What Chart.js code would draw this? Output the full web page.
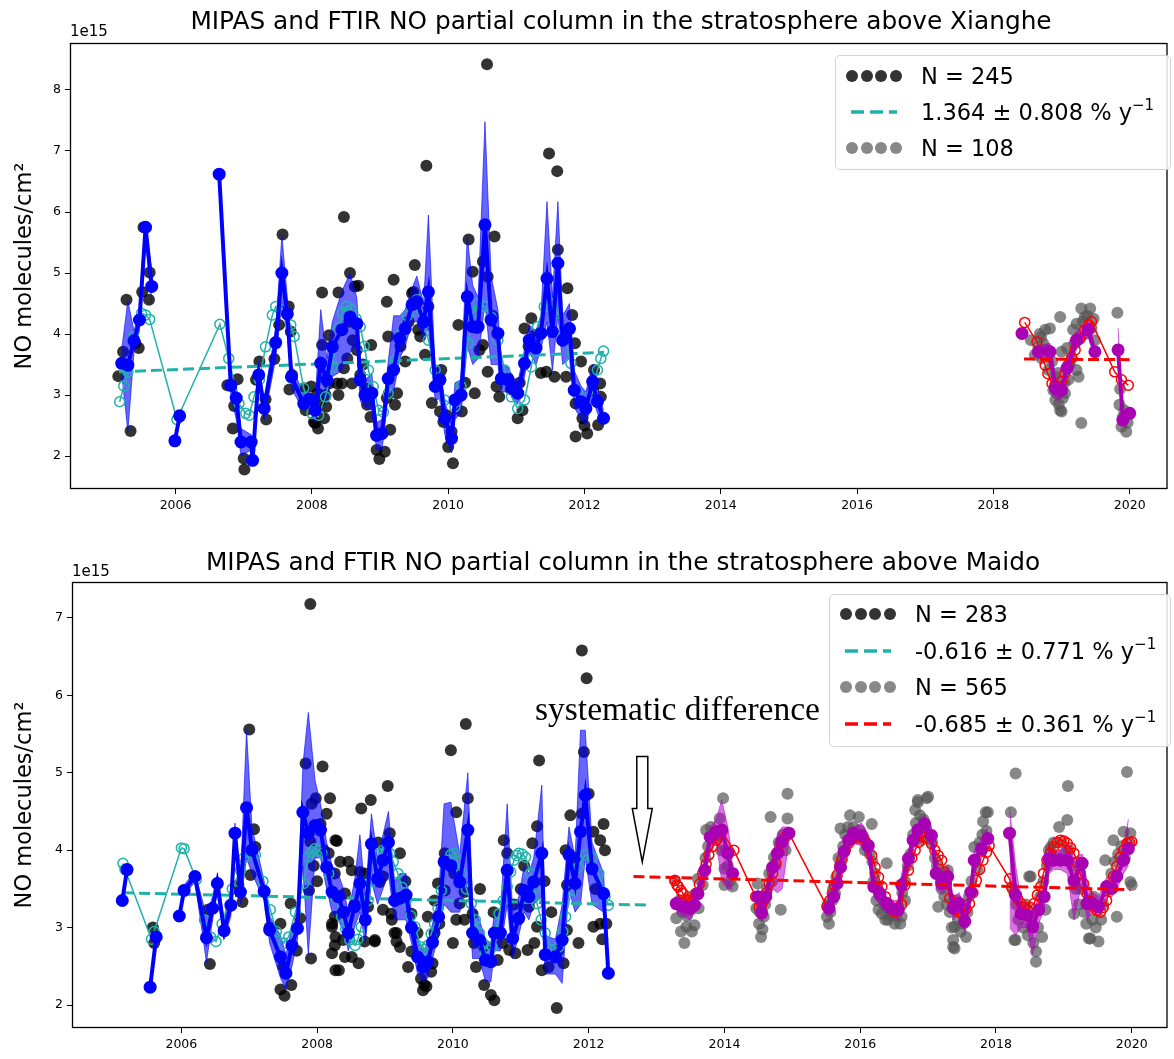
<!DOCTYPE html>
<html>
<head>
<meta charset="utf-8">
<script src="https://cdn.jsdelivr.net/npm/chart.js@4.4.0/dist/chart.umd.min.js"></script>
<style>
  body { margin:0; background:#fff; font-family:'DejaVu Sans', sans-serif; }
  #wrap { position:relative; width:1174px; height:1059px; overflow:hidden; }
  canvas { position:absolute; left:0; }
  .title { position:absolute; text-align:center; font-size:24.8px; line-height:1; color:#000; white-space:nowrap; }
  .off { position:absolute; font-size:15px; line-height:1; color:#000; }
  .leg { position:absolute; border:1px solid #d3d3d3; border-radius:5px; background:rgba(255,255,255,0.85); box-sizing:border-box; }
  .mk { position:absolute; left:0; height:30px; display:flex; align-items:center; }
  .dot { width:12px; height:12px; border-radius:50%; margin-right:2.7px; }
  .txt { position:absolute; font-size:22.5px; line-height:30px; white-space:nowrap; color:#000; }
  .txt sup { font-size:15px; position:relative; top:-2px; vertical-align:super; line-height:0; }
  .anno { position:absolute; font-family:'Liberation Serif', 'Times New Roman', serif; font-size:33.5px; line-height:1; white-space:nowrap; color:#000; }
</style>
</head>
<body>
<div id="wrap">
  <canvas id="c1" width="1174" height="530" style="top:0"></canvas>
  <canvas id="c2" width="1174" height="529" style="top:530px"></canvas>

  <div class="title" style="left:70px;width:1102px;top:9px">MIPAS and FTIR NO partial column in the stratosphere above Xianghe</div>
  <div class="title" style="left:72px;width:1102px;top:550px">MIPAS and FTIR NO partial column in the stratosphere above Maido</div>
  <div class="off" style="left:70px;top:24px">1e15</div>
  <div class="off" style="left:72px;top:564px">1e15</div>
  <div class="anno" style="left:535px;top:692px">systematic difference</div>

  <div class="leg" style="left:835px;top:55px;width:336px;height:115px">
    <div class="mk" style="left:10px;top:5px"><span class="dot" style="background:#333"></span><span class="dot" style="background:#333"></span><span class="dot" style="background:#333"></span><span class="dot" style="background:#333"></span></div>
    <div class="txt" style="left:85px;top:5px">N = 245</div>
    <div class="mk" style="left:15px;top:41px"><svg width="46" height="6"><line x1="0" y1="3" x2="46" y2="3" stroke="#20b2aa" stroke-width="3.5" stroke-dasharray="13 6"/></svg></div>
    <div class="txt" style="left:85px;top:41px">1.364 ± 0.808 % y<sup>−1</sup></div>
    <div class="mk" style="left:10px;top:77px"><span class="dot" style="background:#888"></span><span class="dot" style="background:#888"></span><span class="dot" style="background:#888"></span><span class="dot" style="background:#888"></span></div>
    <div class="txt" style="left:85px;top:77px">N = 108</div>
  </div>

  <div class="leg" style="left:829px;top:594px;width:342px;height:153px">
    <div class="mk" style="left:10px;top:4px"><span class="dot" style="background:#333"></span><span class="dot" style="background:#333"></span><span class="dot" style="background:#333"></span><span class="dot" style="background:#333"></span></div>
    <div class="txt" style="left:85px;top:4px">N = 283</div>
    <div class="mk" style="left:15px;top:41px"><svg width="46" height="6"><line x1="0" y1="3" x2="46" y2="3" stroke="#20b2aa" stroke-width="3.5" stroke-dasharray="13 6"/></svg></div>
    <div class="txt" style="left:85px;top:41px">-0.616 ± 0.771 % y<sup>−1</sup></div>
    <div class="mk" style="left:10px;top:77px"><span class="dot" style="background:#888"></span><span class="dot" style="background:#888"></span><span class="dot" style="background:#888"></span><span class="dot" style="background:#888"></span></div>
    <div class="txt" style="left:85px;top:77px">N = 565</div>
    <div class="mk" style="left:15px;top:114px"><svg width="46" height="6"><line x1="0" y1="3" x2="46" y2="3" stroke="#ff0000" stroke-width="3.5" stroke-dasharray="13 6"/></svg></div>
    <div class="txt" style="left:85px;top:114px">-0.685 ± 0.361 % y<sup>−1</sup></div>
  </div>
</div>

<script>
// ---------------- DATA ----------------
const xTicks = [2006, 2008, 2010, 2012, 2014, 2016, 2018, 2020];
const yTicksXianghe = [2, 3, 4, 5, 6, 7, 8];
const yTicksMaido = [2, 3, 4, 5, 6, 7];

// Xianghe: first-period daily measurements (N = 245) [year, value 1e15]
const xhDaily1 = [[2005.16,3.31],[2005.23,3.71],[2005.28,4.56],[2005.34,2.41],[2005.46,3.77],[2005.51,4.69],[2005.53,5.75],[2005.62,5.01],[2005.61,4.56],[2005.41,3.85],
[2006.76,3.16],[2006.84,2.45],[2006.86,2.82],[2006.91,3.26],[2007.0,1.96],[2007.01,1.78],[2007.18,3.25],[2007.23,3.55],[2007.32,2.93],[2007.33,2.60],[2007.45,3.59],[2007.52,4.15],[2007.57,5.63],[2007.66,4.45],[2007.69,4.04],[2007.71,3.33],[2007.67,3.09],
[2007.88,3.11],[2007.91,2.75],[2007.99,3.14],[2008.05,2.54],[2008.09,2.45],[2008.18,2.62],[2008.21,2.81],[2008.15,3.82],[2008.15,4.68],[2008.25,3.98],[2008.25,3.19],[2008.03,2.56],[2008.08,3.03],[2008.12,2.9],[2008.2,3.0],
[2008.37,3.19],[2008.39,4.68],[2008.39,3.0],[2008.44,3.19],[2008.47,3.44],[2008.47,5.92],[2008.56,5.0],[2008.59,3.19],[2008.63,4.78],[2008.68,4.79],[2008.66,3.74],[2008.71,3.33],[2008.52,3.6],[2008.55,4.2],[2008.6,3.9],[2008.75,3.5],[2008.8,3.1],
[2008.87,3.82],[2008.81,2.84],[2008.86,2.64],[2008.95,2.10],[2008.99,1.95],[2009.07,2.07],[2009.10,2.95],[2009.10,4.53],[2009.12,3.96],[2009.15,2.43],[2009.20,4.89],[2009.22,2.84],[2009.25,3.03],[2009.37,3.55],[2009.3,3.8],[2009.42,4.2],
[2009.47,4.67],[2009.49,4.69],[2009.51,5.13],[2009.56,4.07],[2009.59,3.96],[2009.66,3.66],[2009.68,6.76],[2009.71,4.45],[2009.76,2.87],[2009.90,3.41],[2009.98,2.67],[2009.93,2.56],[2009.88,2.73],
[2010.0,2.15],[2010.07,1.88],[2010.05,2.4],[2010.15,4.15],[2010.20,2.73],[2010.25,3.2],[2010.30,5.55],[2010.36,5.02],[2010.39,3.03],[2010.46,3.74],[2010.51,3.82],[2010.51,5.19],[2010.57,8.42],[2010.58,4.94],[2010.68,5.60],[2010.58,3.38],[2010.71,3.14],[2010.75,2.97],[2010.65,4.3],[2010.42,4.1],
[2010.88,3.27],[2010.92,3.1],[2011.02,2.62],[2011.09,2.75],[2011.05,3.2],[2011.12,4.09],[2011.22,4.26],[2011.27,3.98],[2011.18,3.8],[2011.36,3.36],[2011.44,3.38],[2011.48,6.96],[2011.60,6.67],[2011.61,5.38],[2011.56,3.30],[2011.73,3.30],[2011.75,4.75],[2011.82,4.31],[2011.86,3.85],[2011.95,3.55],[2011.87,2.32],[2012.04,2.37],[2011.97,2.62],[2011.87,2.86],[2012.14,3.41],[2012.23,3.19],[2012.2,2.51],[2012.24,2.97],[2012.13,3.07],[2012.0,2.5]];

// Xianghe: monthly means [year, mean, low, high], null = gap
const xhMonthly1 = [[2005.21,3.52,3.35,3.75],[2005.30,3.49,2.40,4.55],[2005.39,3.89,3.70,4.05],[2005.47,4.23,4.05,4.40],[2005.56,5.75,5.55,5.80],[2005.65,4.78,4.50,5.05],null,
[2005.99,2.25,2.20,2.30],[2006.06,2.66,2.60,2.72],null,
[2006.64,6.62,6.58,6.66],[2006.81,3.16,3.0,3.3],[2006.89,2.95,2.6,3.2],[2006.96,2.23,2.0,2.45],[2007.11,2.23,2.1,2.35],[2007.13,1.93,1.85,2.0],[2007.22,3.33,3.2,3.5],[2007.30,2.78,2.6,2.95],[2007.47,3.86,3.6,4.1],[2007.56,5.0,4.5,5.62],[2007.64,4.33,4.0,4.6],[2007.70,3.30,3.1,3.5],[2007.88,2.86,2.75,3.0],[2007.96,2.93,2.8,3.05],[2008.05,2.75,2.55,2.95],[2008.13,3.52,3.0,4.4],[2008.22,3.25,2.9,3.6],[2008.30,3.79,3.3,4.2],[2008.44,4.07,3.4,4.7],[2008.56,4.28,3.7,5.0],[2008.66,4.17,3.8,4.6],[2008.71,3.25,2.9,3.6],[2008.78,3.0,2.8,3.25],[2008.88,3.03,2.75,3.35],[2008.95,2.34,2.1,2.55],[2009.03,2.37,2.1,2.6],[2009.12,3.27,3.0,3.55],[2009.20,3.41,3.05,4.3],[2009.29,3.93,3.6,4.3],[2009.37,4.09,3.8,4.4],[2009.47,4.48,4.2,4.75],[2009.54,4.53,4.2,4.95],[2009.64,4.20,3.9,4.5],[2009.71,4.69,4.1,5.95],[2009.81,3.14,2.9,3.4],[2009.88,3.25,2.95,3.5],[2009.95,2.62,2.35,2.9],[2010.05,2.29,2.05,2.5],[2010.10,2.92,2.6,3.2],[2010.19,3.0,2.7,3.25],[2010.28,4.61,3.8,5.6],[2010.36,4.12,3.5,4.8],[2010.44,4.12,3.6,4.6],[2010.54,5.79,4.5,7.48],[2010.63,4.23,3.5,4.95],[2010.73,4.01,3.5,4.4],[2010.78,3.27,3.05,3.5],[2010.88,3.25,3.05,3.45],[2010.95,3.11,2.95,3.3],[2011.02,3.03,2.85,3.2],[2011.12,3.52,3.3,3.75],[2011.19,3.90,3.7,4.15],[2011.29,3.77,3.5,4.05],[2011.36,4.01,3.75,4.3],[2011.45,4.91,4.2,6.17],[2011.53,4.04,3.4,4.6],[2011.61,5.16,4.3,6.17],[2011.68,3.90,3.5,4.3],[2011.78,4.09,3.6,4.5],[2011.85,3.08,2.8,3.4],[2011.95,2.89,2.6,3.15],[2012.02,2.78,2.5,3.05],[2012.12,3.22,2.95,3.5],[2012.19,2.89,2.7,3.1],[2012.28,2.62,2.5,2.75]];

// Xianghe: fitted model at measurement times, first period
const xhFit1 = [[2005.18,2.89],[2005.24,3.15],[2005.30,3.38],[2005.38,3.96],[2005.50,4.34],[2005.56,4.31],[2005.62,4.24],[2006.02,2.60],[2006.65,4.16],[2006.78,3.60],[2006.93,2.86],[2007.03,2.70],[2007.08,2.67],[2007.15,2.97],[2007.23,3.25],[2007.32,3.79],[2007.42,4.31],[2007.47,4.45],[2007.55,4.40],[2007.69,4.15],[2007.74,3.96],[2007.88,3.11],[2008.00,2.70],[2008.10,2.67],[2008.20,2.97],[2008.30,3.46],[2008.40,4.10],[2008.45,4.35],[2008.51,4.45],[2008.58,4.40],[2008.65,4.25],[2008.71,4.12],[2008.77,3.80],[2008.83,3.41],[2008.90,3.14],[2008.98,2.75],[2009.05,2.72],[2009.12,3.03],[2009.22,3.57],[2009.32,4.01],[2009.40,4.30],[2009.47,4.45],[2009.54,4.56],[2009.61,4.39],[2009.71,3.90],[2009.81,3.41],[2009.95,2.92],[2010.10,2.81],[2010.19,3.14],[2010.29,3.85],[2010.36,4.34],[2010.44,4.50],[2010.54,4.45],[2010.63,4.28],[2010.73,3.90],[2010.83,3.41],[2010.93,2.97],[2011.02,2.78],[2011.12,2.92],[2011.22,3.46],[2011.31,4.12],[2011.41,4.45],[2011.51,4.50],[2011.61,4.34],[2011.70,4.01],[2011.80,3.52],[2011.90,3.03],[2011.99,2.86],[2012.12,3.03],[2012.19,3.41],[2012.24,3.60],[2012.28,3.72]];
const xhTrend1X = [2005.17, 2012.28];
const xhTrend1Y = [3.38, 3.70];

// Xianghe: second-period daily measurements (N = 108)
const xhDaily2 = [[2018.76,4.07],[2018.83,4.09],[2018.66,3.79],[2018.61,3.66],[2018.71,3.60],[2018.98,4.28],[2018.81,3.41],[2018.88,3.08],[2018.91,2.92],[2018.98,2.75],[2019.00,2.73],[2018.93,3.03],[2019.05,3.03],[2019.10,3.25],[2019.08,3.77],[2019.17,4.07],[2019.22,4.17],[2019.15,3.60],[2019.22,3.41],[2019.29,4.42],[2019.42,4.42],[2019.34,4.28],[2019.29,2.54],[2019.37,4.01],[2019.49,3.90],[2019.82,4.35],[2019.85,2.84],[2019.88,2.48],[2019.95,2.40],[2019.90,2.64],[2019.25,3.30],[2018.95,3.36],[2019.00,3.71],[2018.55,3.9],[2018.70,3.95],[2018.78,3.75],[2018.86,3.55],[2018.90,3.3],[2018.96,2.85],[2019.02,2.95],[2019.04,3.2],[2019.12,3.5],[2019.19,3.85],[2019.26,3.95],[2019.31,4.2],[2019.38,4.3],[2019.44,4.1],[2019.47,4.25],[2018.73,3.85],[2018.68,4.0],[2019.86,3.1],[2019.92,2.75],[2019.97,2.55]];
const xhMonthly2 = [[2018.42,4.01,3.95,4.07],null,[2018.66,3.71,3.6,3.8],[2018.83,3.71,3.6,3.85],[2018.91,3.11,2.9,3.3],[2019.00,3.08,2.95,3.2],[2019.08,3.44,3.3,3.6],[2019.22,3.90,3.75,4.05],[2019.39,4.07,3.95,4.2],[2019.49,3.71,3.6,3.8],null,[2019.83,3.74,3.5,4.1],[2019.90,2.59,2.5,2.7],[2020.00,2.70,2.62,2.78]];
const xhFit2 = [[2018.46,4.19],[2018.64,3.87],[2018.76,3.49],[2018.80,3.35],[2018.86,3.19],[2018.90,3.15],[2018.95,3.14],[2019.00,3.22],[2019.05,3.36],[2019.10,3.50],[2019.15,3.62],[2019.20,3.74],[2019.27,3.92],[2019.34,4.07],[2019.40,4.15],[2019.44,4.20],[2019.78,3.38],[2019.88,3.25],[2019.98,3.16]];
const xhTrend2X = [2018.45, 2020.00];
const xhTrend2Y = [3.59, 3.58];

// Maido: first-period daily measurements (N = 283)
const mdDaily1 = [[2005.58,3.0],[2005.60,2.80],[2006.42,2.53],[2006.39,3.23],[2007.0,5.56],[2007.07,4.27],[2007.09,4.04],[2007.02,3.68],[2006.90,3.33],[2006.84,3.55],[2007.46,3.05],[2007.46,2.20],[2007.52,2.12],[2007.62,2.26],[2007.61,3.31],[2007.75,3.12],[2007.83,5.12],[2007.91,2.60],[2008.08,5.08],[2007.98,4.67],[2007.92,4.60],[2008.19,4.67],[2008.14,4.47],[2007.90,4.11],[2008.27,4.13],[2008.17,3.96],[2008.05,4.34],[2008.26,3.70],[2007.88,3.48],[2008.22,3.05],[2008.27,2.88],[2008.27,2.45],[2008.22,2.67],[2007.90,7.18],[2008.29,4.12],[2008.41,2.62],[2008.51,2.62],[2008.61,2.54],[2008.34,3.85],[2008.46,3.85],[2008.51,3.74],[2008.41,3.44],[2008.26,3.14],[2008.22,3.01],[2008.26,2.77],[2008.65,4.54],[2008.79,4.65],[2009.04,4.83],[2008.63,3.72],[2008.70,3.70],[2008.85,2.82],[2008.70,2.82],[2009.07,4.22],[2009.22,3.96],[2008.97,3.66],[2009.09,3.18],[2009.17,2.93],[2009.17,2.82],[2009.39,2.69],[2009.58,2.26],[2009.68,2.43],[2009.70,2.54],[2009.97,5.29],[2010.05,4.49],[2010.00,2.80],[2009.73,3.35],[2009.80,3.05],[2009.88,3.48],[2009.88,3.96],[2010.19,5.63],[2010.22,4.67],[2010.75,4.13],[2011.27,5.16],[2011.24,4.31],[2011.17,4.09],[2011.93,5.27],[2012.00,4.73],[2011.73,4.45],[2011.90,4.47],[2012.07,4.24],[2012.22,4.34],[2012.17,4.13],[2012.24,4.00],[2011.66,4.00],[2011.68,3.55],[2011.12,3.27],[2011.24,3.01],[2011.68,2.97],[2011.85,2.80],[2012.07,3.01],[2012.17,3.05],[2012.26,3.05],[2011.41,2.49],[2011.63,2.54],[2011.53,1.96],[2011.31,2.45],[2010.66,2.58],[2010.46,2.26],[2010.56,2.13],[2010.61,2.06],[2010.34,2.49],[2010.17,3.46],[2010.10,3.31],[2010.17,3.10],[2010.29,3.18],[2010.31,2.80],[2010.46,2.75],[2010.73,2.80],[2010.83,2.71],[2010.92,2.67],[2011.10,2.71],[2010.80,3.96],[2009.63,3.14],[2009.73,2.93],[2009.53,2.34],[2009.61,2.24],[2009.56,2.19],[2009.14,2.93],[2009.22,2.75],[2009.10,3.10],[2008.92,3.59],[2008.97,3.23],[2008.75,3.27],[2008.85,2.84],[2008.38,2.84],[2008.32,2.45],[2009.39,3.18],[2009.48,2.93],[2009.34,2.49],[2009.78,3.57],[2010.02,3.70],[2011.90,6.58],[2011.97,6.22],[2010.05,3.1],[2010.9,3.3],[2011.0,3.5],[2011.05,3.8],[2011.35,3.6],[2011.45,3.2],[2011.8,3.9],[2012.1,3.5],[2008.55,3.3],[2008.9,4.1],[2009.3,3.6],[2010.4,3.5],[2010.6,3.2],[2011.2,2.8],[2011.55,2.7],[2012.2,2.85],[2007.7,2.7],[2007.5,2.5],[2007.3,3.0],[2007.95,3.8],[2008.1,4.0],[2008.0,3.6]];

const mdMonthly1 = [[2005.13,3.35,3.3,3.4],[2005.20,3.75,3.7,3.8],null,[2005.54,2.23,2.2,2.26],[2005.63,2.88,2.85,2.92],null,
[2005.97,3.15,3.1,3.2],[2006.04,3.48,3.4,3.55],[2006.20,3.66,3.6,3.72],[2006.37,2.87,2.55,3.15],[2006.46,3.25,3.1,3.4],[2006.53,3.57,3.45,3.7],[2006.63,2.96,2.85,3.1],[2006.73,3.29,3.15,3.45],[2006.79,4.22,4.1,4.35],[2006.87,3.46,3.3,3.6],[2006.96,4.55,3.9,5.55],[2007.04,4.00,3.7,4.3],[2007.22,3.47,3.35,3.6],[2007.30,2.97,2.8,3.15],[2007.46,2.62,2.35,2.9],[2007.54,2.41,2.2,2.65],[2007.63,2.77,2.5,3.0],[2007.71,2.99,2.85,3.15],[2007.79,4.49,3.8,5.1],[2007.87,4.22,2.65,5.78],[2007.97,4.32,3.9,4.9],[2008.05,4.26,3.9,4.6],[2008.14,3.78,3.5,4.1],[2008.22,3.46,3.2,3.8],[2008.31,3.40,3.1,3.7],[2008.39,3.20,2.95,3.5],[2008.46,2.93,2.7,3.2],[2008.55,3.27,3.0,3.6],[2008.63,3.57,3.2,4.2],[2008.71,3.10,2.8,3.4],[2008.80,4.08,3.6,4.47],[2008.89,3.63,3.3,3.9],[2008.97,3.87,3.5,4.2],[2009.05,4.10,3.7,4.5],[2009.14,3.35,3.1,3.6],[2009.22,3.38,3.1,3.7],[2009.31,3.42,3.1,3.7],[2009.39,3.00,2.8,3.2],[2009.48,2.62,2.4,2.85],[2009.56,2.49,2.3,2.7],[2009.63,2.56,2.35,2.8],[2009.70,2.81,2.6,3.05],[2009.79,3.14,2.9,3.4],[2009.87,3.85,3.3,4.6],[2009.97,3.80,3.2,4.62],[2010.10,3.59,3.2,3.95],[2010.22,4.26,3.6,5.0],[2010.29,2.93,2.6,3.3],[2010.39,2.84,2.6,3.1],[2010.48,2.58,2.3,2.85],[2010.56,2.56,2.3,2.8],[2010.61,2.93,2.7,3.2],[2010.70,2.93,2.7,3.2],[2010.80,3.74,3.3,4.6],[2010.88,2.86,2.6,3.2],[2010.97,3.12,2.9,3.4],[2011.05,3.48,3.2,3.8],[2011.12,3.40,3.1,3.7],[2011.19,3.59,3.3,3.9],[2011.31,3.96,3.4,4.84],[2011.36,2.65,2.4,2.9],[2011.51,2.62,2.4,2.85],[2011.61,2.84,2.28,3.3],[2011.71,3.94,3.5,4.3],[2011.80,3.57,3.2,3.9],[2011.88,4.24,3.3,5.55],[2011.95,4.71,3.9,5.55],[2012.05,3.76,3.3,4.1],[2012.22,3.44,3.2,3.7],[2012.29,2.41,2.35,2.47]];

const mdFit1 = [[2005.14,3.83],[2005.17,3.75],[2005.56,2.85],[2005.60,2.95],[2006.00,4.03],[2006.04,4.02],[2006.22,3.62],[2006.34,3.10],[2006.43,2.88],[2006.51,2.82],[2006.60,3.05],[2006.75,3.50],[2006.87,3.74],[2006.92,3.90],[2007.09,3.94],[2007.20,3.60],[2007.31,3.23],[2007.40,2.95],[2007.51,2.80],[2007.58,2.88],[2007.68,3.20],[2007.80,3.57],[2007.87,3.91],[2007.92,3.98],[2007.97,4.02],[2008.02,4.00],[2008.07,3.96],[2008.17,3.70],[2008.27,3.40],[2008.36,3.14],[2008.42,2.98],[2008.48,2.84],[2008.56,2.77],[2008.60,2.85],[2008.65,3.01],[2008.75,3.35],[2008.80,3.60],[2008.87,3.83],[2008.92,3.95],[2008.97,4.00],[2009.02,3.99],[2009.07,3.96],[2009.12,3.85],[2009.19,3.70],[2009.25,3.52],[2009.31,3.35],[2009.38,3.15],[2009.44,3.01],[2009.53,2.75],[2009.58,2.72],[2009.63,2.77],[2009.68,2.92],[2009.73,3.05],[2009.78,3.25],[2009.83,3.48],[2009.92,3.87],[2009.97,3.94],[2010.02,3.96],[2010.07,3.85],[2010.12,3.70],[2010.20,3.50],[2010.27,3.31],[2010.33,3.10],[2010.39,2.93],[2010.44,2.80],[2010.48,2.67],[2010.53,2.70],[2010.58,2.75],[2010.63,2.95],[2010.68,3.18],[2010.74,3.35],[2010.80,3.53],[2010.85,3.72],[2010.90,3.87],[2010.94,3.93],[2010.97,3.96],[2011.02,3.95],[2011.07,3.91],[2011.14,3.70],[2011.20,3.50],[2011.24,3.31],[2011.30,3.10],[2011.36,2.93],[2011.46,2.71],[2011.56,2.75],[2011.62,2.95],[2011.66,3.14],[2011.75,3.48],[2011.85,3.78],[2011.95,3.94],[2012.05,3.91],[2012.15,3.70],[2012.24,3.40],[2012.29,3.29]];
const mdTrend1X = [2005.14, 2012.88];
const mdTrend1Y = [3.45, 3.29];

// Maido: second-period daily measurements (N = 565)
const mdDaily2 = [[2013.41,2.80],[2013.29,3.12],[2013.44,3.01],[2013.56,3.03],[2013.34,3.35],[2013.51,3.23],[2013.58,3.44],[2013.61,3.63],[2013.27,3.61],[2013.73,4.26],[2013.80,4.30],[2013.93,4.41],[2013.98,4.67],[2014.00,3.76],[2014.00,3.55],[2014.12,3.53],[2013.90,4.15],[2014.02,4.00],[2014.49,3.57],[2014.54,3.38],[2014.51,3.05],[2014.54,2.88],[2014.58,3.14],[2014.68,4.43],[2014.93,4.73],[2014.93,4.41],[2014.83,3.23],[2014.73,3.91],[2015.51,3.14],[2015.54,3.05],[2015.59,3.35],[2015.63,3.44],[2015.71,4.28],[2015.85,4.45],[2015.98,4.43],[2016.17,4.34],[2015.73,3.87],[2016.07,4.00],[2016.39,3.83],[2016.24,3.35],[2016.32,3.18],[2016.41,3.10],[2016.51,3.05],[2016.61,3.14],[2016.22,3.70],[2016.37,3.10],[2016.59,3.05],[2016.66,3.35],[2016.27,3.23],[2016.81,4.52],[2016.85,4.62],[2016.98,4.67],[2016.90,4.13],[2017.17,3.70],[2017.29,3.74],[2017.15,3.27],[2017.39,3.01],[2017.37,2.75],[2017.56,2.88],[2017.42,3.35],[2017.68,4.04],[2017.81,4.37],[2017.88,4.49],[2017.73,3.74],[2018.22,4.49],[2018.29,4.99],[2018.27,2.84],[2018.37,3.18],[2018.49,3.66],[2018.59,2.69],[2018.59,2.56],[2018.68,2.88],[2018.73,3.23],[2018.81,4.04],[2018.93,4.30],[2019.05,4.39],[2019.06,4.83],[2019.15,3.18],[2019.37,2.86],[2019.51,2.82],[2019.44,3.40],[2019.61,3.87],[2019.73,4.13],[2019.93,5.01],[2019.98,3.59],[2019.88,4.24],[2019.78,3.14],[2016.85,4.65],[2017.00,4.69],[2017.37,2.84],[2017.39,2.73],[2017.85,4.49],[2018.29,2.84],[2018.51,3.66],[2019.39,2.86],[2019.98,4.22],[2020.00,3.55],
[2013.30,3.3],[2013.38,3.2],[2013.45,3.15],[2013.48,3.4],[2013.52,2.95],[2013.36,2.95],[2013.62,3.25],[2013.68,3.55],[2013.72,3.9],[2013.76,4.05],[2013.85,4.2],[2013.95,4.0],[2014.05,3.8],[2014.08,3.6],
[2014.47,3.25],[2014.52,3.2],[2014.56,2.98],[2014.60,3.3],[2014.63,3.5],[2014.66,3.7],[2014.70,3.6],[2014.75,3.8],[2014.80,4.1],[2014.86,4.2],[2014.90,4.0],
[2015.52,3.3],[2015.56,3.2],[2015.60,3.5],[2015.65,3.65],[2015.68,3.9],[2015.75,4.05],[2015.78,4.2],[2015.82,4.3],[2015.90,4.3],[2015.95,4.15],[2016.00,4.25],[2016.05,4.15],[2016.10,4.05],[2016.14,3.95],[2016.18,3.85],[2016.20,3.6],[2016.26,3.5],[2016.30,3.4],[2016.35,3.3],[2016.40,3.25],[2016.44,3.15],[2016.48,3.2],[2016.53,3.15],[2016.57,3.25],[2016.62,3.45],[2016.66,3.6],[2016.70,3.8],[2016.74,3.95],[2016.78,4.2],[2016.82,4.35],[2016.88,4.45],[2016.93,4.4],[2016.96,4.3],[2017.02,4.2],[2017.06,4.1],[2017.10,3.9],[2017.13,3.8],[2017.20,3.5],[2017.24,3.4],[2017.28,3.3],[2017.32,3.2],[2017.35,3.0],[2017.44,3.1],[2017.48,2.95],[2017.52,3.05],[2017.58,3.2],[2017.60,3.4],[2017.64,3.6],[2017.70,3.85],[2017.76,4.1],[2017.80,4.2],[2017.86,4.25],
[2018.25,3.5],[2018.30,3.3],[2018.33,3.1],[2018.40,3.0],[2018.44,3.3],[2018.47,2.9],[2018.52,3.1],[2018.55,2.8],[2018.62,3.0],[2018.65,3.4],[2018.70,3.6],[2018.75,3.8],[2018.78,4.0],[2018.85,4.1],[2018.88,3.9],[2018.97,4.1],[2019.00,3.95],[2019.08,4.0],[2019.12,3.8],[2019.18,3.5],[2019.22,3.3],[2019.26,3.5],[2019.30,3.2],[2019.33,3.05],[2019.42,3.1],[2019.47,3.0],[2019.55,3.1],[2019.58,3.3],[2019.65,3.5],[2019.70,3.7],[2019.75,3.85],[2019.80,3.95],[2019.85,4.05],[2019.90,3.9],[2019.95,4.1]];

const mdMonthly2 = [[2013.29,3.31,3.2,3.42],[2013.39,3.27,3.15,3.38],[2013.49,3.25,3.1,3.35],[2013.56,3.29,3.2,3.4],[2013.61,3.44,3.35,3.55],[2013.71,3.74,3.6,3.9],[2013.79,4.17,4.05,4.3],[2013.88,4.24,4.1,4.4],[2013.96,4.26,3.6,4.65],[2014.05,3.96,3.5,4.3],[2014.12,3.70,3.5,3.9],null,
[2014.49,3.40,3.3,3.5],[2014.55,3.19,3.1,3.3],[2014.61,3.40,3.3,3.5],[2014.71,3.78,3.5,3.95],[2014.78,3.96,3.45,4.2],[2014.85,4.11,3.5,4.3],[2014.95,4.22,4.1,4.3],null,
[2015.54,3.25,3.15,3.35],[2015.61,3.40,3.3,3.5],[2015.66,3.57,3.45,3.7],[2015.71,3.78,3.65,3.9],[2015.76,3.98,3.85,4.1],[2015.83,4.13,4.0,4.25],[2015.90,4.22,4.1,4.3],[2016.02,4.19,4.05,4.35],[2016.12,4.06,3.9,4.2],[2016.20,3.53,3.4,3.7],[2016.29,3.44,3.3,3.55],[2016.39,3.31,3.2,3.4],[2016.46,3.25,3.15,3.35],[2016.56,3.23,3.1,3.35],[2016.61,3.55,3.4,3.7],[2016.71,3.89,3.75,4.0],[2016.78,4.13,4.0,4.25],[2016.85,4.26,4.1,4.35],[2016.95,4.34,4.2,4.45],[2017.05,4.19,4.05,4.3],[2017.12,3.70,3.5,3.85],[2017.20,3.57,3.45,3.7],[2017.29,3.66,3.5,3.8],[2017.37,3.25,3.1,3.4],[2017.46,3.31,3.2,3.45],[2017.54,3.08,2.95,3.2],[2017.63,3.46,3.3,3.6],[2017.68,3.87,3.7,4.0],[2017.79,4.02,3.9,4.15],[2017.88,4.15,4.0,4.3],null,
[2018.20,4.22,3.0,4.55],[2018.29,3.42,2.9,3.8],[2018.37,3.18,3.0,3.35],[2018.46,3.16,3.0,3.3],[2018.54,3.01,2.65,3.2],[2018.63,3.23,3.05,3.4],[2018.71,3.40,3.25,3.55],[2018.78,3.89,3.7,4.05],[2018.85,3.87,3.75,4.0],[2018.95,3.87,3.75,4.0],[2019.05,3.87,3.7,4.1],[2019.15,3.61,3.1,3.9],[2019.27,3.83,3.6,3.95],[2019.34,3.31,3.1,3.6],[2019.42,3.31,3.2,3.45],[2019.51,3.27,3.15,3.4],[2019.63,3.53,3.4,3.65],[2019.71,3.51,3.4,3.65],[2019.78,3.66,3.5,3.8],[2019.88,3.87,3.7,4.0],[2019.95,4.02,3.8,4.4]];

const mdFit2 = [[2013.27,3.61],[2013.30,3.55],[2013.32,3.53],[2013.36,3.48],[2013.39,3.44],[2013.44,3.36],[2013.49,3.31],[2013.54,3.36],[2013.58,3.44],[2013.63,3.56],[2013.68,3.70],[2013.73,3.82],[2013.77,3.94],[2013.83,4.05],[2013.88,4.13],[2013.92,4.20],[2013.96,4.24],[2014.14,4.00],[2014.46,3.40],[2014.51,3.27],[2014.55,3.30],[2014.58,3.35],[2014.62,3.45],[2014.66,3.57],[2014.71,3.70],[2014.76,3.83],[2014.80,3.97],[2014.83,4.09],[2014.90,4.17],[2014.95,4.22],[2015.51,3.27],[2015.55,3.35],[2015.59,3.44],[2015.62,3.55],[2015.66,3.68],[2015.70,3.80],[2015.73,3.89],[2015.78,4.00],[2015.83,4.09],[2015.88,4.14],[2015.93,4.17],[2015.97,4.18],[2016.02,4.17],[2016.07,4.12],[2016.12,4.06],[2016.17,3.93],[2016.22,3.78],[2016.27,3.65],[2016.32,3.53],[2016.37,3.40],[2016.41,3.31],[2016.46,3.24],[2016.51,3.20],[2016.56,3.22],[2016.61,3.30],[2016.66,3.55],[2016.71,3.74],[2016.76,3.90],[2016.81,4.00],[2016.86,4.10],[2016.90,4.17],[2016.95,4.17],[2017.00,4.15],[2017.05,4.08],[2017.10,4.00],[2017.15,3.93],[2017.20,3.87],[2017.24,3.72],[2017.27,3.57],[2017.32,3.38],[2017.37,3.29],[2017.42,3.23],[2017.46,3.20],[2017.51,3.18],[2017.56,3.24],[2017.61,3.31],[2017.66,3.45],[2017.71,3.61],[2017.76,3.75],[2017.81,3.87],[2017.86,3.97],[2017.90,4.06],[2018.20,3.63],[2018.23,3.52],[2018.27,3.44],[2018.32,3.37],[2018.37,3.31],[2018.42,3.26],[2018.46,3.23],[2018.51,3.26],[2018.56,3.31],[2018.61,3.42],[2018.66,3.53],[2018.70,3.70],[2018.75,3.87],[2018.80,3.96],[2018.85,4.04],[2018.90,4.10],[2018.95,4.13],[2019.00,4.12],[2019.05,4.09],[2019.10,4.03],[2019.15,3.96],[2019.20,3.84],[2019.24,3.70],[2019.29,3.57],[2019.34,3.44],[2019.39,3.34],[2019.44,3.27],[2019.49,3.22],[2019.54,3.20],[2019.58,3.26],[2019.63,3.35],[2019.68,3.50],[2019.73,3.66],[2019.78,3.79],[2019.83,3.91],[2019.88,4.00],[2019.93,4.09],[2019.97,4.10],[2020.00,4.11]];
const mdTrend2X = [2012.66, 2019.98];
const mdTrend2Y = [3.66, 3.49];

// ---------------- RENDERING ----------------
const FONT = "'DejaVu Sans', sans-serif";
Chart.defaults.font.family = FONT;
Chart.defaults.color = '#000';

function pts(arr, i) {
  const out = []; let lx = 0;
  for (const p of arr) {
    if (p === null) out.push({ x: lx + 0.0001, y: null });
    else { out.push({ x: p[0], y: p[i] }); lx = p[0]; }
  }
  return out;
}
function line2(xs, ys) { return xs.map((x, k) => ({ x: x, y: ys[k] })); }

const CYAN = '#20b2aa', BLUE = '#0000ff', MAG = 'rgb(170,0,180)', RED = '#ff0000';

function scatterDS(arr, color, order) {
  return { data: pts(arr, 1), showLine: false, pointRadius: 6, pointHoverRadius: 6,
    pointBackgroundColor: color, pointBorderColor: 'rgba(0,0,0,0)', pointBorderWidth: 0, order: order };
}
function bandDS(arr, idx, fillColor, fill, order) {
  return { data: pts(arr, idx), borderColor: fillColor, borderWidth: 1, pointRadius: 0,
    fill: fill, backgroundColor: fillColor, spanGaps: false, order: order };
}
function meanDS(arr, color, order) {
  return { data: pts(arr, 1), borderColor: color, borderWidth: 4, pointRadius: 6.5,
    pointBackgroundColor: color, pointBorderColor: color, pointBorderWidth: 0, spanGaps: false, fill: false, order: order };
}
function fitDS(arr, color, order) {
  return { data: pts(arr, 1), borderColor: color, borderWidth: 1.5, pointRadius: 5,
    pointBackgroundColor: 'rgba(0,0,0,0)', pointBorderColor: color, pointBorderWidth: 1.5, fill: false, order: order };
}
function trendDS(xs, ys, color, order) {
  return { data: line2(xs, ys), borderColor: color, borderWidth: 3, borderDash: [11, 5], pointRadius: 0, fill: false, order: order };
}

const framePlugin = {
  id: 'frame',
  afterDraw(chart) {
    const a = chart.chartArea, c = chart.ctx;
    c.save(); c.strokeStyle = '#000'; c.lineWidth = 1.3;
    c.strokeRect(a.left + 0.5, a.top + 0.5, a.right - a.left - 1, a.bottom - a.top - 1);
    c.restore();
  }
};

const arrowPlugin = {
  id: 'arrow',
  afterDatasetsDraw(chart) {
    const xs = chart.scales.x, ys = chart.scales.y, c = chart.ctx;
    const x = xs.getPixelForValue(2012.79);
    const yTop = ys.getPixelForValue(5.21), yHead = ys.getPixelForValue(4.54), yTip = ys.getPixelForValue(3.85);
    const sw = 5.5, hw = 10;
    c.save();
    c.beginPath();
    c.moveTo(x - sw, yTop); c.lineTo(x + sw, yTop); c.lineTo(x + sw, yHead); c.lineTo(x + hw, yHead);
    c.lineTo(x, yTip); c.lineTo(x - hw, yHead); c.lineTo(x - sw, yHead); c.closePath();
    c.fillStyle = '#fff'; c.fill();
    c.strokeStyle = '#000'; c.lineWidth = 1.5; c.stroke();
    c.restore();
  }
};

function makeChart(id, cfg) {
  const axisTicks = { font: { size: 12.5, family: FONT }, color: '#000', padding: 4, maxRotation: 0, autoSkip: false, callback: v => String(v) };
  const grid = { display: true, drawOnChartArea: false, drawTicks: true, tickLength: 5, color: '#000', lineWidth: 1 };
  return new Chart(document.getElementById(id), {
    type: 'line',
    data: { datasets: cfg.datasets },
    options: {
      responsive: false, animation: false, devicePixelRatio: 1,
      events: [],
      layout: { padding: { top: cfg.padTop, right: cfg.padRight, left: 0, bottom: 0 } },
      elements: { line: { tension: 0 } },
      plugins: { legend: { display: false }, tooltip: { enabled: false }, title: { display: false } },
      scales: {
        x: { type: 'linear', min: cfg.xMin, max: cfg.xMax,
          afterBuildTicks: s => { s.ticks = xTicks.map(v => ({ value: v })); },
          afterFit: s => { s.height = cfg.xAxisH; },
          ticks: axisTicks, grid: grid, border: { display: false } },
        y: { type: 'linear', min: cfg.yMin, max: cfg.yMax,
          afterBuildTicks: s => { s.ticks = cfg.yTicks.map(v => ({ value: v })); },
          afterFit: s => { s.width = cfg.yAxisW; },
          ticks: axisTicks, grid: grid, border: { display: false },
          title: { display: true, text: 'NO molecules/cm²', font: { size: 22.5, family: FONT }, color: '#000', padding: { top: 12, bottom: 0 } } }
      }
    },
    plugins: cfg.plugins
  });
}

makeChart('c1', {
  padTop: 43, padRight: 2, xAxisH: 41, yAxisW: 70,
  xMin: 2004.451, xMax: 2020.555, yMin: 1.46, yMax: 8.77, yTicks: yTicksXianghe,
  plugins: [framePlugin],
  datasets: [
    scatterDS(xhDaily1, 'rgba(0,0,0,0.8)', 20),
    bandDS(xhMonthly1, 2, 'rgba(0,0,255,0.6)', false, 19),
    bandDS(xhMonthly1, 3, 'rgba(0,0,255,0.6)', '-1', 19),
    fitDS(xhFit1, CYAN, 18),
    trendDS(xhTrend1X, xhTrend1Y, CYAN, 17),
    meanDS(xhMonthly1, BLUE, 16),
    scatterDS(xhDaily2, 'rgba(85,85,85,0.7)', 15),
    bandDS(xhMonthly2, 2, 'rgba(180,0,200,0.55)', false, 14),
    bandDS(xhMonthly2, 3, 'rgba(180,0,200,0.55)', '-1', 14),
    fitDS(xhFit2, RED, 13),
    meanDS(xhMonthly2, MAG, 12),
    trendDS(xhTrend2X, xhTrend2Y, RED, 11)
  ]
});

makeChart('c2', {
  padTop: 52, padRight: 0, xAxisH: 31, yAxisW: 72,
  xMin: 2004.389, xMax: 2020.527, yMin: 1.703, yMax: 7.465, yTicks: yTicksMaido,
  plugins: [framePlugin, arrowPlugin],
  datasets: [
    scatterDS(mdDaily1, 'rgba(0,0,0,0.8)', 20),
    bandDS(mdMonthly1, 2, 'rgba(0,0,255,0.6)', false, 19),
    bandDS(mdMonthly1, 3, 'rgba(0,0,255,0.6)', '-1', 19),
    fitDS(mdFit1, CYAN, 18),
    trendDS(mdTrend1X, mdTrend1Y, CYAN, 17),
    meanDS(mdMonthly1, BLUE, 16),
    scatterDS(mdDaily2, 'rgba(85,85,85,0.7)', 15),
    bandDS(mdMonthly2, 2, 'rgba(180,0,200,0.55)', false, 14),
    bandDS(mdMonthly2, 3, 'rgba(180,0,200,0.55)', '-1', 14),
    fitDS(mdFit2, RED, 13),
    meanDS(mdMonthly2, MAG, 12),
    trendDS(mdTrend2X, mdTrend2Y, RED, 11)
  ]
});
</script>
</body>
</html>
